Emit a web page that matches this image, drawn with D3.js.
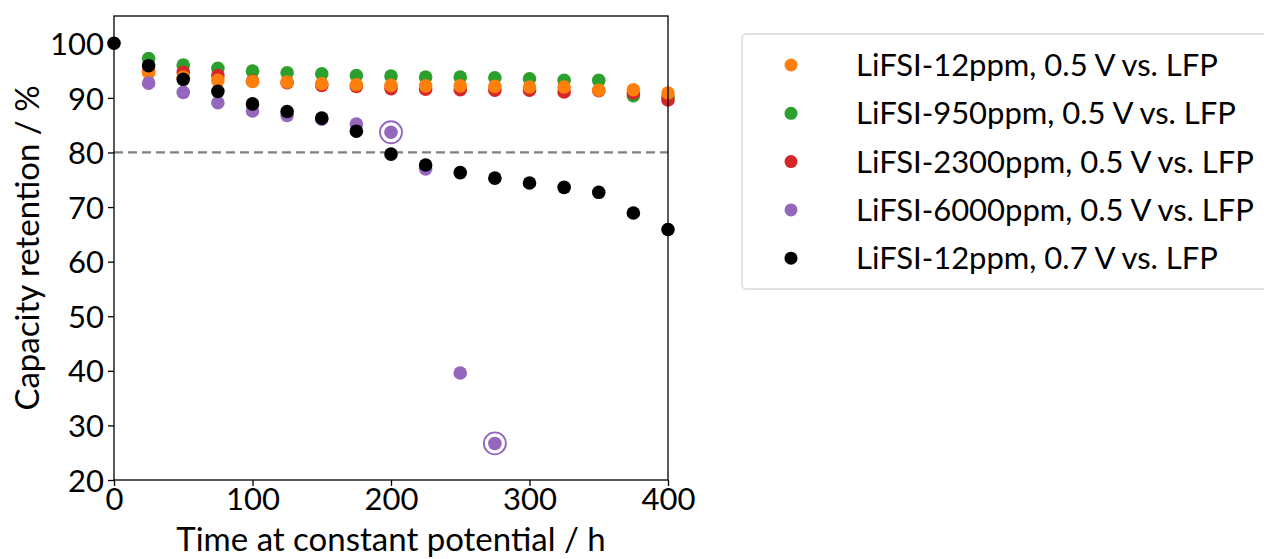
<!DOCTYPE html>
<html>
  <head>
    <meta charset="utf-8" />
    <script src="https://d3js.org/d3.v7.min.js"></script>
    <style>
      body { margin: 0; background: #fff; }
      text { font-family: Lato, "Open Sans", sans-serif; }
    </style>
  </head>
  <body>
    <svg id="chart"></svg>
    <script>
      // hours at constant potential
      var hours = [0, 25, 50, 75, 100, 125, 150, 175, 200, 225, 250, 275, 300, 325, 350, 375, 400];

      // capacity retention in %, one array per cell (null = no point)
      var lifsi12 = [null, 94.6, 93.8, 93.2, 93.0, 92.9, 92.6, 92.4, 92.3, 92.2, 92.2, 92.1, 92.0, 92.0, 91.4, 91.5, 90.9];
      var lifsi950 = [null, 97.2, 96.0, 95.4, 94.9, 94.6, 94.4, 94.1, 94.0, 93.8, 93.8, 93.7, 93.5, 93.2, 93.2, 90.4, 90.1];
      var lifsi2300 = [null, 94.8, 94.7, 94.1, 93.1, 92.8, 92.3, 92.1, 91.7, 91.6, 91.5, 91.4, 91.4, 91.1, 91.3, 90.9, 89.6];
      var lifsi6000 = [null, 92.7, 91.0, 89.1, 87.6, 86.8, 86.1, 85.2, 83.7, 77.0, 39.6, 26.7, null, null, null, null, null];
      var lifsi12hv = [100, 95.9, 93.4, 91.2, 88.9, 87.5, 86.3, 83.9, 79.7, 77.7, 76.3, 75.3, 74.4, 73.6, 72.7, 68.9, 65.9];

      // 6000ppm points marked with a ring
      var ringed = [200, 275];

      var legendLabels = [
        "LiFSI-12ppm, 0.5 V vs. LFP",
        "LiFSI-950ppm, 0.5 V vs. LFP",
        "LiFSI-2300ppm, 0.5 V vs. LFP",
        "LiFSI-6000ppm, 0.5 V vs. LFP",
        "LiFSI-12ppm, 0.7 V vs. LFP",
      ];
      var legendColors = ["#ff7f0e", "#2ca02c", "#d62728", "#9467bd", "#000000"];

      var xTicks = [0, 100, 200, 300, 400];
      var yTicks = [20, 30, 40, 50, 60, 70, 80, 90, 100];

      var width = 1264;
      var height = 559;
      var margin = { left: 114, right: 668, top: 16, bottom: 480 };

      var svg = d3.select("#chart").attr("width", width).attr("height", height);

      var x = d3.scaleLinear().domain([0, 400]).range([margin.left, margin.right]);
      var y = d3.scaleLinear().domain([20, 105]).range([margin.bottom, margin.top]);

      // 80% dashed reference
      svg
        .append("line")
        .attr("x1", x(0))
        .attr("x2", x(400))
        .attr("y1", y(80))
        .attr("y2", y(80))
        .attr("stroke", "#808080")
        .attr("stroke-width", 2.2)
        .attr("stroke-dasharray", "9,5");

      // draw order: green, red, orange, purple, black
      var series = [
        { values: lifsi950, color: legendColors[1] },
        { values: lifsi2300, color: legendColors[2] },
        { values: lifsi12, color: legendColors[0] },
        { values: lifsi6000, color: legendColors[3] },
        { values: lifsi12hv, color: legendColors[4] },
      ];

      var plot = svg.append("g");

      series.forEach(function (s) {
        var pts = hours
          .map((h, i) => ({ h: h, v: s.values[i] }))
          .filter((d) => d.v !== null);
        plot
          .append("g")
          .selectAll("circle")
          .data(pts)
          .join("circle")
          .attr("cx", (d) => x(d.h))
          .attr("cy", (d) => y(d.v))
          .attr("r", 6.8)
          .attr("fill", s.color);
      });

      // rings around selected 6000ppm points
      plot
        .append("g")
        .selectAll("circle")
        .data(ringed)
        .join("circle")
        .attr("cx", (d) => x(d))
        .attr("cy", (d) => y(lifsi6000[hours.indexOf(d)]))
        .attr("r", 11)
        .attr("fill", "none")
        .attr("stroke", legendColors[3])
        .attr("stroke-width", 1.8);

      // axes
      var xAxis = svg
        .append("g")
        .attr("transform", "translate(0," + margin.bottom + ")")
        .call(d3.axisBottom(x).tickValues(xTicks).tickSize(6).tickPadding(2));
      var yAxis = svg
        .append("g")
        .attr("transform", "translate(" + margin.left + ",0)")
        .call(d3.axisLeft(y).tickValues(yTicks).tickSize(6).tickPadding(4));

      [xAxis, yAxis].forEach(function (a) {
        a.select(".domain").remove();
        a.selectAll(".tick line").attr("stroke", "#000").attr("stroke-width", 1.3);
        a.selectAll(".tick text")
          .attr("fill", "#000")
          .style("font-size", "31px")
          .style("font-family", "Lato, 'Open Sans', sans-serif");
      });
      yAxis.selectAll(".tick text").attr("dy", "0.36em");

      // frame
      svg
        .append("rect")
        .attr("x", margin.left)
        .attr("y", margin.top)
        .attr("width", margin.right - margin.left)
        .attr("height", margin.bottom - margin.top)
        .attr("fill", "none")
        .attr("stroke", "#000")
        .attr("stroke-width", 1.3);

      // axis titles
      svg
        .append("text")
        .attr("x", (margin.left + margin.right) / 2)
        .attr("y", 551)
        .attr("text-anchor", "middle")
        .style("font-size", "33px")
        .text("Time at constant potential / h");

      svg
        .append("text")
        .attr("transform", "translate(39," + (margin.top + margin.bottom) / 2 + ") rotate(-90)")
        .attr("text-anchor", "middle")
        .style("font-size", "33px")
        .text("Capacity retention / %");

      // legend
      var legend = svg.append("g");
      legend
        .append("rect")
        .attr("x", 742)
        .attr("y", 34)
        .attr("width", 540)
        .attr("height", 255)
        .attr("rx", 4)
        .attr("fill", "#fff")
        .attr("stroke", "#d6d6d6")
        .attr("stroke-width", 1.3);

      var rows = legend
        .selectAll("g.row")
        .data(legendLabels)
        .join("g")
        .attr("class", "row")
        .attr("transform", (d, i) => "translate(0," + (65 + i * 48.3) + ")");
      rows
        .append("circle")
        .attr("cx", 791)
        .attr("cy", 0)
        .attr("r", 6.5)
        .attr("fill", (d, i) => legendColors[i]);
      rows
        .append("text")
        .attr("x", 856)
        .attr("dy", "0.36em")
        .style("font-size", "31px")
        .text((d) => d);
    </script>
  </body>
</html>
